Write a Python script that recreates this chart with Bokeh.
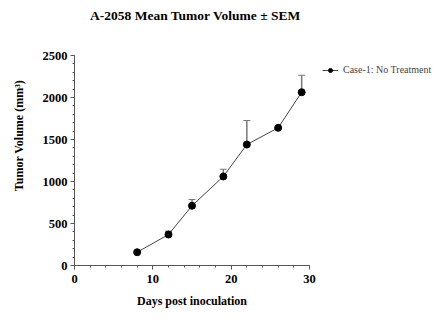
from bokeh.plotting import figure
from bokeh.models import (ColumnDataSource, Whisker, TeeHead, SingleIntervalTicker, Legend,
                          LegendItem, Range1d, Label)
from bokeh.embed import file_html
from bokeh.resources import INLINE

days = [8, 12, 15, 19, 22, 26, 29]
mean_volume = [158, 369, 711, 1060, 1440, 1639, 2063]
sem = [0, 40, 75, 86, 286, 0, 202]
series_name = "Case-1: No Treatment"
title_text = "A-2058 Mean Tumor Volume ± SEM"

upper = [m + s for m, s in zip(mean_volume, sem)]
src = ColumnDataSource(dict(x=days, y=mean_volume, upper=upper))

FONT = "Liberation Serif"
Y_MAX = 2500
FRAME_H = 260        # frame extends above the axis top to leave room for the title
AXIS_H = 210         # pixel height of the 0..2500 axis

p = figure(frame_width=235, frame_height=FRAME_H, output_backend="svg", toolbar_location=None,
           x_range=Range1d(0, 30), y_range=Range1d(0, Y_MAX * FRAME_H / AXIS_H),
           min_border_left=74, min_border_right=138, min_border_top=5, min_border_bottom=66)
p.outline_line_color = None
p.grid.visible = False
p.background_fill_color = "white"
p.border_fill_color = "white"

p.xaxis.ticker = SingleIntervalTicker(interval=10, num_minor_ticks=5)
p.yaxis.ticker = SingleIntervalTicker(interval=500, num_minor_ticks=5)
p.yaxis.bounds = (0, Y_MAX)
for ax in (p.xaxis[0], p.yaxis[0]):
    ax.axis_line_color = "#555555"
    ax.major_tick_line_color = "#555555"
    ax.minor_tick_line_color = "#555555"
    ax.major_tick_out = 4
    ax.major_tick_in = 0
    ax.minor_tick_out = 2
    ax.minor_tick_in = 0
    ax.major_label_text_font = FONT
    ax.major_label_text_font_style = "bold"
    ax.major_label_text_font_size = "12.5px"
    ax.major_label_text_color = "black"
    ax.axis_label_text_font = FONT
    ax.axis_label_text_font_style = "bold"
    ax.axis_label_text_font_size = "12px"
    ax.axis_label_text_color = "black"
p.xaxis.axis_label = "Days post inoculation"
p.yaxis.axis_label = "Tumor Volume (mm³)"
p.xaxis.axis_label_standoff = 8
p.yaxis.axis_label_standoff = 14
p.xaxis.major_label_standoff = 5
p.yaxis.major_label_standoff = 3

title = Label(x=121, y=FRAME_H - 10, x_units="screen", y_units="screen", text=title_text,
              text_font=FONT, text_font_size="13.5px", text_font_style="bold",
              text_align="center", text_baseline="middle", text_color="black")
p.add_layout(title)

w = Whisker(source=src, base="x", lower="y", upper="upper", dimension="height",
            line_color="#777777", line_width=1.5,
            upper_head=TeeHead(size=7, line_color="#777777", line_width=1),
            lower_head=None)
p.add_layout(w)

ln = p.line("x", "y", source=src, line_color="#444444", line_width=1)
sc = p.scatter("x", "y", source=src, size=7, marker="circle", fill_color="black", line_color="black")

legend = Legend(items=[LegendItem(label=series_name, renderers=[ln, sc])],
                location=(13, 190), border_line_color=None, background_fill_alpha=0,
                label_text_font=FONT, label_text_font_size="10px",
                glyph_width=16, glyph_height=10, label_standoff=5,
                padding=0, margin=0, spacing=0)
p.add_layout(legend, "right")

open("out.html", "w").write(file_html(p, INLINE))
